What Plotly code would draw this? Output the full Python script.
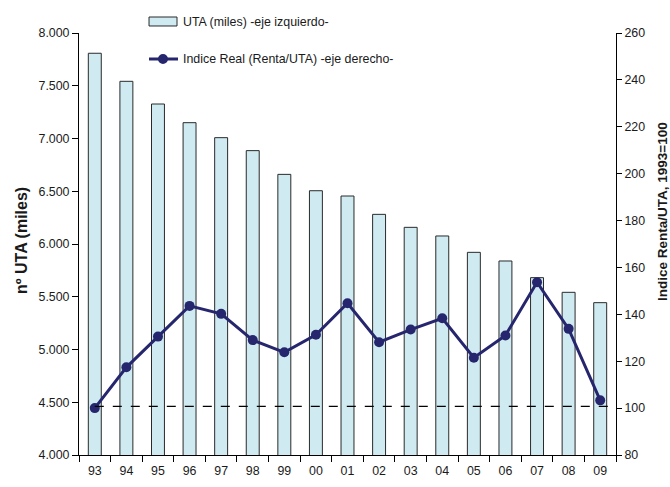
import plotly.graph_objects as go

years = ["93", "94", "95", "96", "97", "98", "99", "00", "01", "02", "03", "04", "05", "06", "07", "08", "09"]
uta_miles = [7808, 7542, 7327, 7150, 7008, 6885, 6660, 6505, 6455, 6281, 6158, 6076, 5921, 5839, 5681, 5542, 5444]
indice_real = [100.0, 117.4, 130.5, 143.6, 140.2, 129.0, 123.8, 131.3, 144.7, 128.1, 133.5, 138.3, 121.5, 131.0, 153.7, 133.8, 103.3]
base_index = 100.7

left_ticks = [4000, 4500, 5000, 5500, 6000, 6500, 7000, 7500, 8000]
right_ticks = [80, 100, 120, 140, 160, 180, 200, 220, 240, 260]

bar_name = "UTA (miles) -eje izquierdo-"
line_name = "Indice Real (Renta/UTA) -eje derecho-"

FONT = "Liberation Sans, Arial, sans-serif"
TXT = "#1a1a1a"
BAR_FILL = "#CFEBF1"
BAR_EDGE = "#2a2a2a"
LINE_COL = "#26266E"
FS = 12.4

fig = go.Figure()
fig.add_trace(go.Bar(
    x=years, y=uta_miles, name=bar_name,
    marker=dict(color=BAR_FILL, line=dict(color=BAR_EDGE, width=1)),
    width=0.41, yaxis="y", showlegend=False,
))
fig.add_trace(go.Scatter(
    x=years, y=indice_real, name=line_name,
    mode="lines+markers", line=dict(color=LINE_COL, width=3),
    marker=dict(color=LINE_COL, size=10), yaxis="y2", showlegend=False,
))

# reference line at index ~100
fig.add_shape(type="line", xref="x", yref="y2", x0=0, x1=len(years) - 0.5,
              y0=base_index, y1=base_index, layer="above",
              line=dict(color="#000000", width=1.2, dash="dash"))

# manual legend (drawn to match the original's swatch shapes)
fig.add_shape(type="rect", xref="paper", yref="paper",
              x0=0.1304, x1=0.1825, y0=1.0166, y1=1.0379,
              fillcolor=BAR_FILL, line=dict(color=BAR_EDGE, width=1))
fig.add_annotation(text=bar_name, xref="paper", yref="paper", x=0.19, y=1.027,
                   xanchor="left", yanchor="middle", showarrow=False,
                   font=dict(size=FS, color=TXT, family=FONT))
fig.add_shape(type="line", xref="paper", yref="paper",
              x0=0.1304, x1=0.1844, y0=0.9384, y1=0.9384,
              line=dict(color=LINE_COL, width=3))
fig.add_shape(type="circle", xref="paper", yref="paper",
              xsizemode="pixel", ysizemode="pixel", xanchor=0.1564, yanchor=0.9384,
              x0=-5, x1=5, y0=-5, y1=5, fillcolor=LINE_COL, line=dict(color=LINE_COL, width=0))
fig.add_annotation(text=line_name, xref="paper", yref="paper", x=0.19, y=0.9384,
                   xanchor="left", yanchor="middle", showarrow=False,
                   font=dict(size=FS, color=TXT, family=FONT))

fig.update_layout(
    width=670, height=487,
    margin=dict(l=79, r=54, t=33, b=32, autoexpand=False),
    paper_bgcolor="white", plot_bgcolor="white",
    font=dict(family=FONT, size=FS, color=TXT),
    separators=",.",
    showlegend=False,
    bargap=0.5,
    xaxis=dict(type="category", range=[-0.5, len(years) - 0.5],
               showline=True, linecolor="#000", linewidth=1,
               ticks="outside", tickson="boundaries", ticklen=6, tickcolor="#000",
               ticklabelstandoff=4,
               showgrid=False, tickfont=dict(size=FS, color=TXT)),
    yaxis=dict(range=[4000, 8000], tickvals=left_ticks, tickformat=",d",
               showline=True, linecolor="#000", linewidth=1, ticks="outside",
               ticklen=6, tickcolor="#000", showgrid=False, zeroline=False,
               tickfont=dict(size=FS, color=TXT)),
    yaxis2=dict(range=[80, 260], tickvals=right_ticks, overlaying="y", side="right",
                showline=True, linecolor="#000", linewidth=1, ticks="outside",
                ticklen=5, tickcolor="#000", showgrid=False, zeroline=False,
                tickfont=dict(size=FS, color=TXT)),
)

fig.add_annotation(text="<b>nº UTA (miles)</b>", xref="paper", yref="paper",
                   x=(21 - 79) / 537, y=(455 - 241) / 422, xanchor="center", yanchor="middle",
                   textangle=-90, showarrow=False,
                   font=dict(size=16, color=TXT, family=FONT))
fig.add_annotation(text="<b>Indice Renta/UTA, 1993=100</b>", xref="paper", yref="paper",
                   x=(662 - 79) / 537, y=(455 - 212) / 422, xanchor="center", yanchor="middle",
                   textangle=-90, showarrow=False,
                   font=dict(size=13.5, color=TXT, family=FONT))

fig.write_html("out.html", config={"displayModeBar": False},
               post_script="document.body.style.margin='0';document.body.style.padding='0';")
